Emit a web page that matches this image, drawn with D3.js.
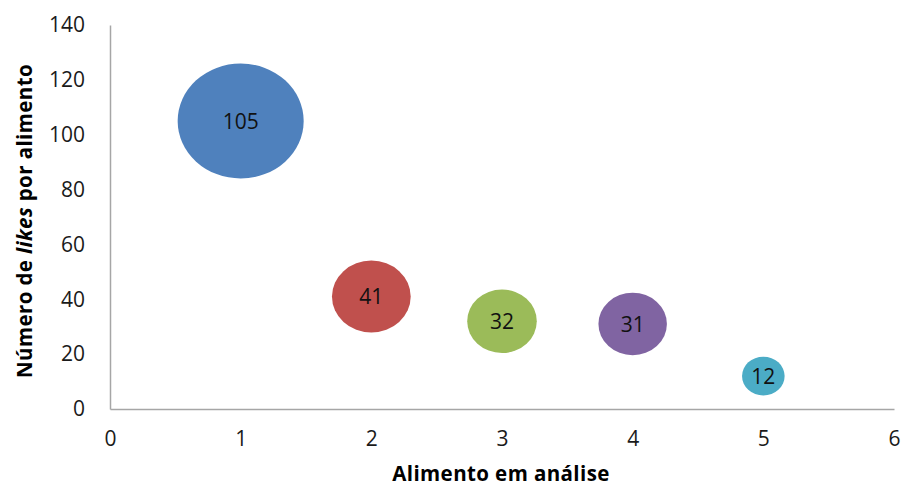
<!DOCTYPE html>
<html>
<head>
<meta charset="utf-8">
<script src="https://cdn.jsdelivr.net/npm/d3@7"></script>
<style>
  html, body { margin: 0; padding: 0; background: #fff; }
  svg { display: block; font-family: "Open Sans", Lato, sans-serif; }
</style>
</head>
<body>
<svg id="chart" width="902" height="486"></svg>
<script>
// Food items (x), likes per item (y) and the colour of each bubble
const alimentos = [1, 2, 3, 4, 5];
const likes = [105, 41, 32, 31, 12];
const cores = ["#4F81BD", "#C0504D", "#9BBB59", "#8064A2", "#4BACC6"];
const xTicks = [0, 1, 2, 3, 4, 5, 6];
const yTicks = [0, 20, 40, 60, 80, 100, 120, 140];

const svg = d3.select("#chart");
const plot = { left: 110, right: 894, top: 25, bottom: 409 };
const font = "'Open Sans', Lato, sans-serif";

const x = d3.scaleLinear().domain([0, 6]).range([plot.left, plot.right]);
const y = d3.scaleLinear().domain([0, 140]).range([plot.bottom, plot.top]);
// bubble area proportional to value; plot is slightly wider than tall
const rx = d3.scaleSqrt().domain([0, 105]).range([0, 63]);
const ry = d3.scaleSqrt().domain([0, 105]).range([0, 57.5]);

// axes (lines only, no tick marks)
const xAxis = svg.append("g").attr("transform", `translate(0,${plot.bottom})`)
  .call(d3.axisBottom(x).tickValues(xTicks).tickSize(0).tickPadding(22).tickFormat(d3.format("d")));
const yAxis = svg.append("g").attr("transform", `translate(${plot.left},0)`)
  .call(d3.axisLeft(y).tickValues(yTicks).tickSize(0).tickPadding(25).tickFormat(d3.format("d")));
[xAxis, yAxis].forEach(g => {
  g.select(".domain").attr("stroke", "#a6a6a6").attr("stroke-width", 1.5);
  g.selectAll("text").attr("font-family", font)
    .attr("font-size", 21).attr("fill", "#1a1a1a");
});

// bubbles
const pts = alimentos.map((a, i) => ({ a, v: likes[i], c: cores[i] }));
svg.append("g").selectAll("ellipse").data(pts).join("ellipse")
  .attr("cx", d => x(d.a)).attr("cy", d => y(d.v))
  .attr("rx", d => rx(d.v)).attr("ry", d => ry(d.v))
  .attr("fill", d => d.c);

// value labels
svg.append("g").selectAll("text").data(pts).join("text")
  .attr("x", d => x(d.a)).attr("y", d => y(d.v))
  .attr("dy", "0.36em").attr("text-anchor", "middle")
  .attr("font-family", font).attr("font-size", 21).attr("fill", "#111")
  .text(d => d.v);

// axis titles
svg.append("text").attr("x", 501).attr("y", 481)
  .attr("text-anchor", "middle").attr("font-family", font)
  .attr("font-size", 20.5).attr("font-weight", "bold").attr("letter-spacing", 0.4)
  .attr("fill", "#000").text("Alimento em análise");

const yt = svg.append("text")
  .attr("transform", "translate(32,221) rotate(-90)")
  .attr("text-anchor", "middle").attr("font-family", font)
  .attr("font-size", 20.5).attr("font-weight", "bold").attr("letter-spacing", 0.4)
  .attr("fill", "#000");
yt.append("tspan").text("Número de ");
yt.append("tspan").attr("font-style", "italic").text("likes");
yt.append("tspan").text(" por alimento");
</script>
</body>
</html>
